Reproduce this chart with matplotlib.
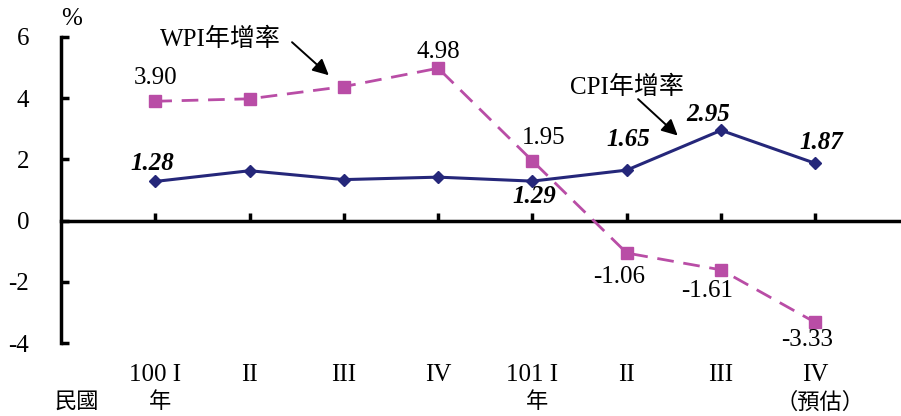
import matplotlib
matplotlib.use("Agg")
import matplotlib.pyplot as plt

plt.rcParams['font.family'] = ['Liberation Serif', 'Noto Sans CJK TC']
plt.rcParams['axes.unicode_minus'] = False

quarters = ["100 I", "II", "III", "IV", "101 I", "II", "III", "IV"]
sub_labels = ["年", "", "", "", "年", "", "", "（預估）"]
cpi = [1.28, 1.63, 1.34, 1.42, 1.29, 1.65, 2.95, 1.87]
wpi = [3.90, 3.98, 4.38, 4.98, 1.95, -1.06, -1.61, -3.33]
cpi_labelled = [0, 4, 5, 6, 7]
wpi_labelled = [0, 3, 4, 5, 6, 7]
# label offsets in pixels (dx, dy)
cpi_offsets = {0: (-3, 18), 4: (2, -15), 5: (1, 31), 6: (-13, 16), 7: (6, 21)}
wpi_offsets = {0: (0, 23), 3: (0, 16), 4: (11, 23), 5: (-8, -24), 6: (-14, -21), 7: (-8, -18)}

CPI_COLOR = "#25277A"
WPI_COLOR = "#B94DA6"
FS = 18

W, H = 901, 416
fig = plt.figure(figsize=(W / 100, H / 100), dpi=100)
ax_left, ax_right, ax_top, ax_bot = 61, 901, 37, 343
ax = fig.add_axes([ax_left / W, 1 - ax_bot / H, (ax_right - ax_left) / W, (ax_bot - ax_top) / H])

x = list(range(len(quarters)))
ax.plot(x, wpi, color=WPI_COLOR, lw=2.0, dashes=(6, 3.5), marker='s', ms=8,
        markeredgecolor=WPI_COLOR, markerfacecolor=WPI_COLOR, zorder=3)
ax.plot(x, cpi, color=CPI_COLOR, lw=2.2, marker='D', ms=6,
        markeredgecolor=CPI_COLOR, markerfacecolor=CPI_COLOR, zorder=4)

ax.set_xlim(-1.0, 7.908)
ax.set_ylim(-4, 6)

px = 72 / 100  # points per pixel
for i in wpi_labelled:
    dx, dy = wpi_offsets[i]
    ax.annotate(f"{wpi[i]:.2f}", (x[i], wpi[i]), xytext=(dx * px, dy * px),
                textcoords='offset points', ha='center', va='center', fontsize=FS)
for i in cpi_labelled:
    dx, dy = cpi_offsets[i]
    ax.annotate(f"{cpi[i]:.2f}", (x[i], cpi[i]), xytext=(dx * px, dy * px),
                textcoords='offset points', ha='center', va='center', fontsize=FS,
                fontweight='bold', fontstyle='italic')

# series captions with arrows
arrow = dict(arrowstyle='-|>', color='black', lw=1.4, mutation_scale=24, shrinkA=0, shrinkB=0)
ax.text(0.69, 5.92, "WPI年增率", ha='center', va='center', fontsize=FS)
ax.annotate("", xy=(1.84, 4.75), xytext=(1.45, 5.83), arrowprops=arrow)
ax.text(5.00, 4.36, "CPI年增率", ha='center', va='center', fontsize=FS)
ax.annotate("", xy=(5.54, 2.78), xytext=(5.12, 3.97), arrowprops=arrow)

# axes styling
for s in ('top', 'right'):
    ax.spines[s].set_visible(False)
ax.spines['bottom'].set_position(('data', 0))
ax.spines['bottom'].set_linewidth(2.5)
ax.spines['left'].set_linewidth(2.5)
ax.set_yticks([-4, -2, 0, 2, 4, 6])
ax.set_yticklabels(["-4", "-2", "0", "2", "4", "6"], fontsize=FS)
ax.tick_params(axis='y', direction='in', length=6, width=2.5, pad=23)
ax.set_xticks(x)
ax.set_xticklabels([])
ax.tick_params(axis='x', direction='in', length=6, width=2.5)

tr = ax.get_xaxis_transform()
row1 = (ax_bot - 375) / (ax_bot - ax_top)
row2 = (ax_bot - 403) / (ax_bot - ax_top)
for i, (q, s) in enumerate(zip(quarters, sub_labels)):
    ax.text(x[i], row1, q, transform=tr, ha='center', va='center', fontsize=FS)
    if s:
        ax.text(x[i] + 0.05, row2, s, transform=tr, ha='center', va='center', fontsize=FS - 2)
fig.text(77 / W, 1 - 403 / H, "民國", ha='center', va='center', fontsize=FS - 2)
fig.text(72 / W, 1 - 19 / H, "%", ha='center', va='center', fontsize=18)

fig.savefig("out.png", dpi=100)
